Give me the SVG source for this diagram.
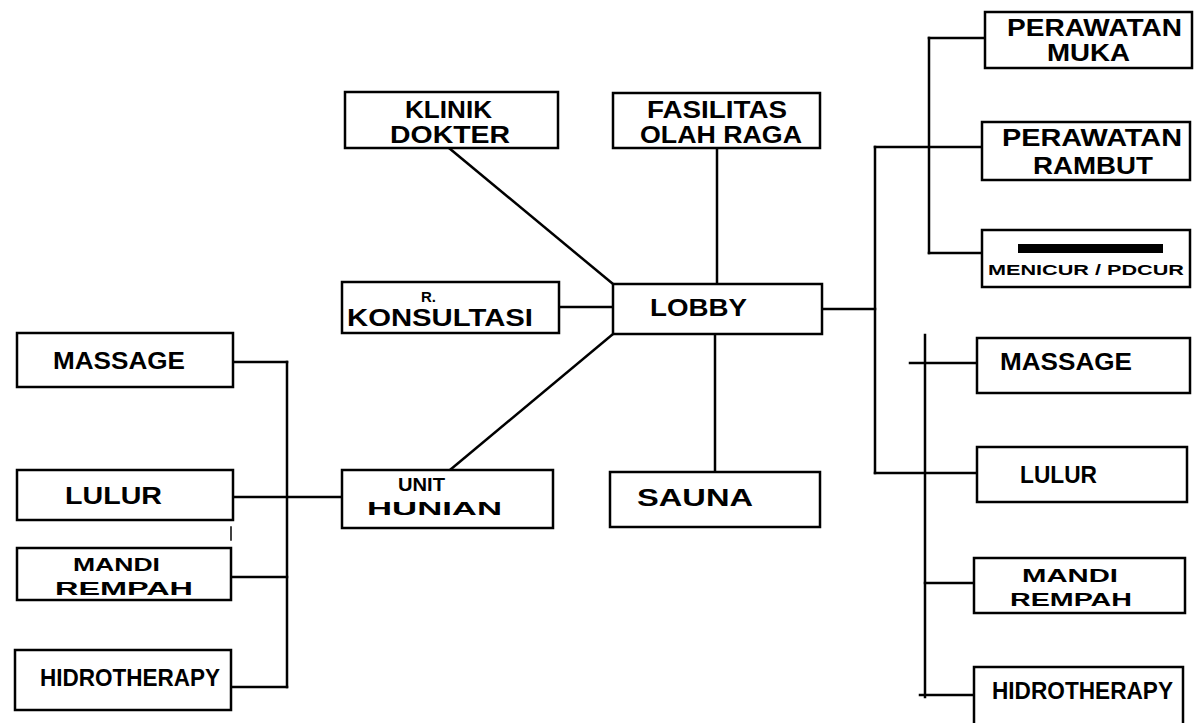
<svg xmlns="http://www.w3.org/2000/svg" width="1194" height="723" viewBox="0 0 1194 723">
<style>
.box{fill:#fff;stroke:#000;stroke-width:2.5}
.ln{fill:none;stroke:#000;stroke-width:2.5;stroke-linecap:square}
text{font-family:"Liberation Sans","DejaVu Sans",sans-serif;font-size:23px;font-weight:bold;fill:#000}
.sm{font-size:15px}
.md{font-size:19px}
</style>
<rect width="1194" height="723" fill="#fff"/>
<g id="connectors">
<path class="ln" d="M449 148 L613 284"/>
<path class="ln" d="M717 148 L717 284"/>
<path class="ln" d="M559 307 L613 307"/>
<path class="ln" d="M613 334 L450 470"/>
<path class="ln" d="M715 334 L715 472"/>
<path class="ln" d="M822 309 L875 309"/>
<path class="ln" d="M875 147 L875 473"/>
<path class="ln" d="M875 147 L982 147"/>
<path class="ln" d="M929 38 L929 253"/>
<path class="ln" d="M929 38 L985 38"/>
<path class="ln" d="M929 253 L982 253"/>
<path class="ln" d="M925 335 L925 697"/>
<path class="ln" d="M910 363 L977 363"/>
<path class="ln" d="M875 473 L977 473"/>
<path class="ln" d="M925 583 L974 583"/>
<path class="ln" d="M920 695 L974 695"/>
<path class="ln" d="M233 362 L287 362"/>
<path class="ln" d="M287 362 L287 687"/>
<path class="ln" d="M233 497 L342 497"/>
<path class="ln" d="M231 577 L287 577"/>
<path class="ln" d="M231 687 L287 687"/>
<path class="ln" d="M231 527 L231 540" style="stroke-width:1.5"/>
</g>
<g id="klinik-dokter"><rect class="box" x="345" y="92" width="213" height="56"/>
<text x="405" y="118" textLength="87" lengthAdjust="spacingAndGlyphs">KLINIK</text>
<text x="390" y="143" textLength="120" lengthAdjust="spacingAndGlyphs">DOKTER</text></g>
<g id="fasilitas-olah-raga"><rect class="box" x="613" y="93" width="207" height="55"/>
<text x="647" y="118" textLength="140" lengthAdjust="spacingAndGlyphs">FASILITAS</text>
<text x="640" y="143" textLength="162" lengthAdjust="spacingAndGlyphs">OLAH RAGA</text></g>
<g id="r-konsultasi"><rect class="box" x="342" y="282" width="217" height="51"/>
<text class="sm" x="421" y="302">R.</text>
<text x="347" y="326" textLength="186" lengthAdjust="spacingAndGlyphs">KONSULTASI</text></g>
<g id="lobby"><rect class="box" x="613" y="284" width="209" height="50"/>
<text x="650" y="316" textLength="97" lengthAdjust="spacingAndGlyphs">LOBBY</text></g>
<g id="unit-hunian"><rect class="box" x="342" y="470" width="211" height="58"/>
<text class="md" x="398" y="491" textLength="47" lengthAdjust="spacingAndGlyphs">UNIT</text>
<text class="md" x="367" y="515" textLength="135" lengthAdjust="spacingAndGlyphs">HUNIAN</text></g>
<g id="sauna"><rect class="box" x="610" y="472" width="210" height="55"/>
<text x="637" y="506" textLength="116" lengthAdjust="spacingAndGlyphs">SAUNA</text></g>
<g id="perawatan-muka"><rect class="box" x="985" y="12" width="207" height="56"/>
<text x="1007" y="36" textLength="175" lengthAdjust="spacingAndGlyphs">PERAWATAN</text>
<text x="1047" y="61" textLength="83" lengthAdjust="spacingAndGlyphs">MUKA</text></g>
<g id="perawatan-rambut"><rect class="box" x="982" y="122" width="208" height="58"/>
<text x="1002" y="146" textLength="180" lengthAdjust="spacingAndGlyphs">PERAWATAN</text>
<text x="1033" y="174" textLength="120" lengthAdjust="spacingAndGlyphs">RAMBUT</text></g>
<g id="menicur-pdcur"><rect class="box" x="982" y="230" width="208" height="57"/>
<rect x="1018" y="244" width="145" height="9" fill="#000"/>
<text class="sm" x="988" y="275" textLength="196" lengthAdjust="spacingAndGlyphs">MENICUR / PDCUR</text></g>
<g id="massage-r"><rect class="box" x="977" y="338" width="213" height="55"/>
<text x="1000" y="370" textLength="132" lengthAdjust="spacingAndGlyphs">MASSAGE</text></g>
<g id="lulur-r"><rect class="box" x="977" y="447" width="210" height="55"/>
<text x="1020" y="483" textLength="77" lengthAdjust="spacingAndGlyphs">LULUR</text></g>
<g id="mandi-rempah-r"><rect class="box" x="974" y="558" width="211" height="55"/>
<text class="md" x="1022" y="582" textLength="96" lengthAdjust="spacingAndGlyphs">MANDI</text>
<text class="md" x="1010" y="606" textLength="122" lengthAdjust="spacingAndGlyphs">REMPAH</text></g>
<g id="hidrotherapy-r"><rect class="box" x="974" y="667" width="209" height="60"/>
<text x="992" y="699" textLength="181" lengthAdjust="spacingAndGlyphs">HIDROTHERAPY</text></g>
<g id="massage-l"><rect class="box" x="17" y="333" width="216" height="54"/>
<text x="53" y="369" textLength="132" lengthAdjust="spacingAndGlyphs">MASSAGE</text></g>
<g id="lulur-l"><rect class="box" x="17" y="470" width="216" height="50"/>
<text x="65" y="504" textLength="97" lengthAdjust="spacingAndGlyphs">LULUR</text></g>
<g id="mandi-rempah-l"><rect class="box" x="17" y="548" width="214" height="52"/>
<text class="md" x="73" y="571" textLength="87" lengthAdjust="spacingAndGlyphs">MANDI</text>
<text class="md" x="55" y="595" textLength="138" lengthAdjust="spacingAndGlyphs">REMPAH</text></g>
<g id="hidrotherapy-l"><rect class="box" x="15" y="650" width="216" height="60"/>
<text x="40" y="686" textLength="180" lengthAdjust="spacingAndGlyphs">HIDROTHERAPY</text></g>
</svg>
